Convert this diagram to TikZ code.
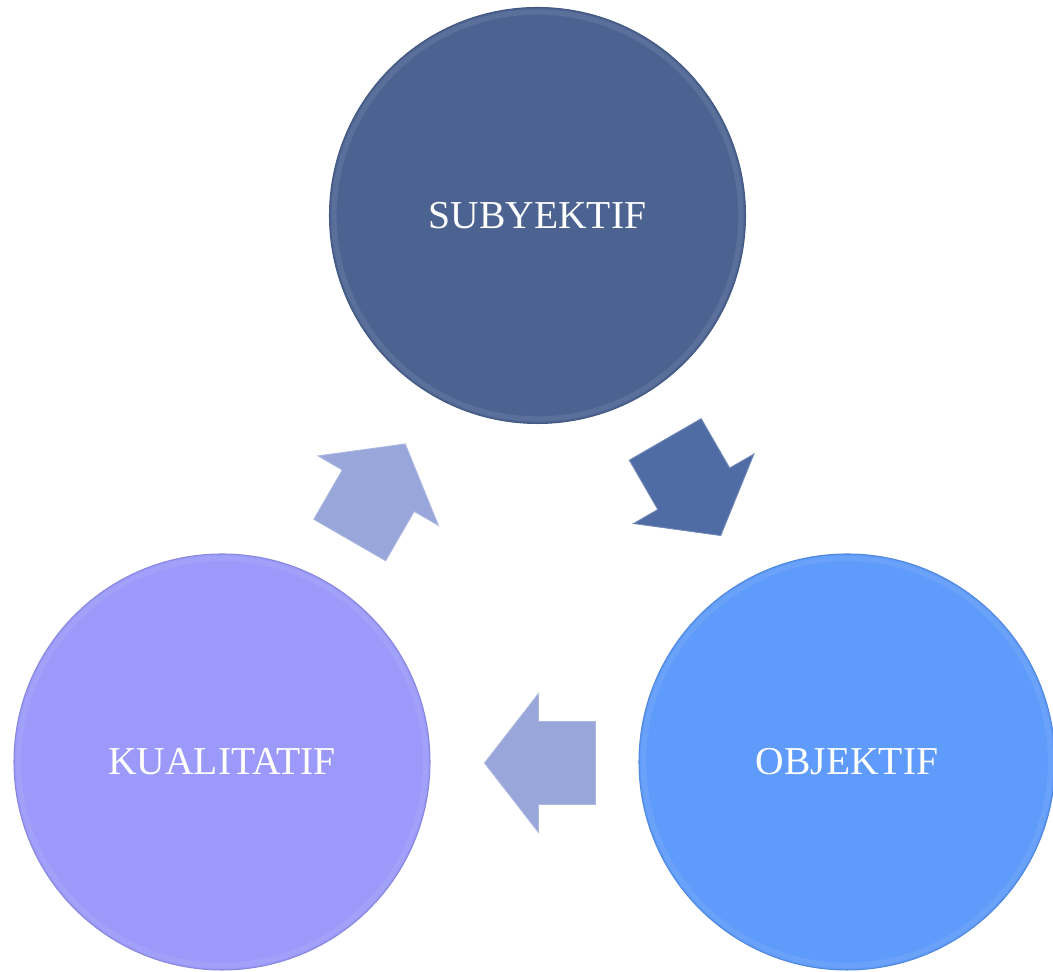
\documentclass[tikz,border=0pt]{standalone}
\usepackage{fontspec}
\setmainfont{Liberation Serif}
\usepackage{tikz}
\usetikzlibrary{positioning}

\definecolor{subjblue}{RGB}{76,99,145}
\definecolor{objblue}{RGB}{94,155,250}
\definecolor{kualviolet}{RGB}{155,153,250}
\definecolor{arrowpale}{RGB}{152,166,218}
\definecolor{arrowdeep}{RGB}{79,108,165}

\begin{document}
\begin{tikzpicture}[
  ball/.style={circle, minimum size=8.32cm, inner sep=0pt, text=white,
    font=\fontsize{22.5}{26}\selectfont, line width=0.6pt},
  rim/.style={white, opacity=0.08, line width=3pt}
]
\useasboundingbox (0,0) rectangle (21.06,19.44);

% Circles
\node[ball, fill=subjblue, draw=subjblue!90!black] (subj) at (10.75,15.13) {SUBYEKTIF};
\node[ball, fill=kualviolet, draw=kualviolet!88!black] (kual) at (4.44,4.2) {KUALITATIF};
\node[ball, fill=objblue, draw=objblue!88!black] (obj) at (16.94,4.2) {OBJEKTIF};

% Bevel rims
\draw[rim] (subj.center) circle (4.07);
\draw[rim] (kual.center) circle (4.07);
\draw[rim] (obj.center) circle (4.07);

% Arrow subyektif -> objektif
\begin{scope}[shift={(13.86,9.69)}, rotate=-60]
\fill[arrowdeep, draw=arrowdeep!80!white, line width=0.5pt] (-1.11,-0.83) -- (0.03,-0.83) -- (0.03,-1.39) -- (1.11,0)
  -- (0.03,1.39) -- (0.03,0.83) -- (-1.11,0.83) -- cycle;
\end{scope}

% Arrow objektif -> kualitatif
\begin{scope}[shift={(10.8,4.18)}, rotate=180]
\fill[arrowpale, draw=arrowpale!80!white, line width=0.5pt] (-1.11,-0.83) -- (0.03,-0.83) -- (0.03,-1.39) -- (1.11,0)
  -- (0.03,1.39) -- (0.03,0.83) -- (-1.11,0.83) -- cycle;
\end{scope}

% Arrow kualitatif -> subyektif
\begin{scope}[shift={(7.55,9.60)}, rotate=60]
\fill[arrowpale, draw=arrowpale!80!white, line width=0.5pt] (-1.11,-0.83) -- (0.03,-0.83) -- (0.03,-1.39) -- (1.11,0)
  -- (0.03,1.39) -- (0.03,0.83) -- (-1.11,0.83) -- cycle;
\end{scope}
\end{tikzpicture}
\end{document}
